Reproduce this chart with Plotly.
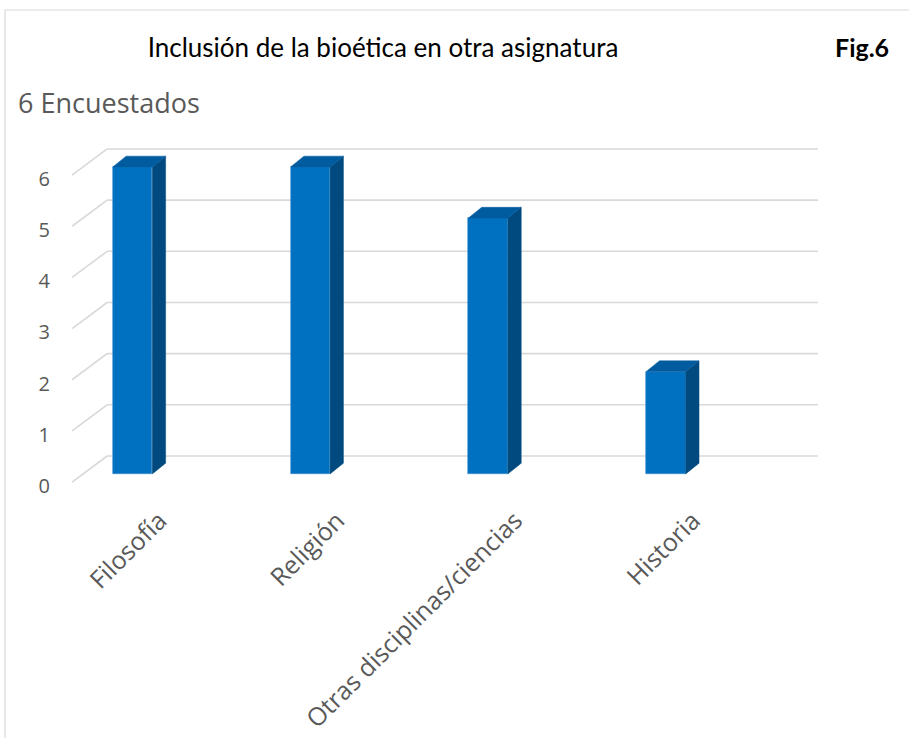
import plotly.graph_objects as go

# Survey results: how many respondents chose each subject
categories = ["Filosofía", "Religión", "Otras disciplinas/ciencias", "Historia"]
counts = [6, 6, 5, 2]
y_ticks = [0, 1, 2, 3, 4, 5, 6]

title_text = "Inclusión de la bioética en otra asignatura"
subtitle_text = "6 Encuestados"
fig_label = "Fig.6"

# pseudo-3D geometry (axis units)
BAR_W = 0.222          # front face width
DEPTH_X = 0.075        # side/top face horizontal offset
DEPTH_Y = 0.21         # side/top face vertical offset
DROP = 0.35            # front face sits below the back wall baseline
WALL_X0, WALL_X1 = -0.143, 3.855
SLANT_X0, SLANT_DY = -0.34, 0.51

FRONT = "#0070C0"
SIDE = "#004A7F"
TOP = "#005B9F"
GRID = "#D9D9D9"
LABEL = "#595959"

# plot-area box in pixels (left, right, top, bottom)
PL, PR, PT, PB = 60, 829, 130, 498

xs = list(range(len(categories)))
fig = go.Figure()

# front faces
fig.add_trace(go.Bar(
    x=xs, y=counts, base=-DROP, width=BAR_W,
    marker=dict(color=FRONT, line=dict(color="#3C8DD0", width=0.6)),
    showlegend=False))

# side and top faces
for i, v in zip(xs, counts):
    xl, xr = i - BAR_W / 2, i + BAR_W / 2
    yb, yt = -DROP, v - DROP
    fig.add_trace(go.Scatter(
        x=[xr, xr + DEPTH_X, xr + DEPTH_X, xr, xr],
        y=[yb, yb + DEPTH_Y, yt + DEPTH_Y, yt, yb],
        fill="toself", fillcolor=SIDE, mode="lines",
        line=dict(color=SIDE, width=0.5),
        hoverinfo="skip", showlegend=False))
    fig.add_trace(go.Scatter(
        x=[xl, xr, xr + DEPTH_X, xl + DEPTH_X, xl],
        y=[yt, yt, yt + DEPTH_Y, yt + DEPTH_Y, yt],
        fill="toself", fillcolor=TOP, mode="lines",
        line=dict(color=TOP, width=0.5),
        hoverinfo="skip", showlegend=False))

# back-wall gridlines with slanted side-wall segments, kept behind the bars
grid_shapes = []
for v in y_ticks:
    grid_shapes.append(dict(type="line", xref="x", yref="y", layer="below",
                            x0=SLANT_X0, y0=v - SLANT_DY, x1=WALL_X0, y1=v,
                            line=dict(color=GRID, width=1.6)))
    grid_shapes.append(dict(type="line", xref="x", yref="y", layer="below",
                            x0=WALL_X0, y0=v, x1=WALL_X1, y1=v,
                            line=dict(color=GRID, width=1.6)))

pw, ph = PR - PL, PB - PT
frame = dict(type="rect", xref="paper", yref="paper",
             x0=(5 - PL) / pw, x1=1.3, y0=-1.2, y1=(PB - 10) / ph,
             line=dict(color=GRID, width=1.2), layer="below")

fig.update_layout(
    width=909, height=738,
    margin=dict(l=PL, r=909 - PR, t=PT, b=738 - PB),
    paper_bgcolor="white", plot_bgcolor="white",
    bargap=0,
    title=dict(text=title_text, x=383 / 909, xanchor="center",
               y=1 - 48 / 738, yanchor="middle",
               font=dict(family="Lato", size=26, color="#000000")),
    xaxis=dict(range=[-0.408, 3.917], tickmode="array", tickvals=xs,
               ticktext=categories, tickangle=-45, showgrid=False,
               zeroline=False, showline=False, ticks="", automargin=False,
               ticklabelshift=27, ticklabelstandoff=2,
               tickfont=dict(family="Open Sans", size=25, color=LABEL)),
    yaxis=dict(range=[-0.821, 6.371], tickmode="array", tickvals=y_ticks,
               showgrid=False, zeroline=False, showline=False, ticks="",
               automargin=False, ticklabelshift=30, ticklabelstandoff=9,
               tickfont=dict(family="Open Sans", size=20, color=LABEL)),
    annotations=[
        dict(text=subtitle_text, xref="paper", yref="paper",
             x=(16 - PL) / pw, y=(PB - 103) / ph,
             xanchor="left", yanchor="middle", showarrow=False,
             font=dict(family="Open Sans", size=27, color=LABEL)),
        dict(text="<b>" + fig_label + "</b>", xref="paper", yref="paper",
             x=(862 - PL) / pw, y=(PB - 47) / ph,
             xanchor="center", yanchor="middle", showarrow=False,
             font=dict(family="Lato", size=25, color="#000000")),
    ],
    shapes=grid_shapes + [frame],
)

fig.write_html("out.html")
